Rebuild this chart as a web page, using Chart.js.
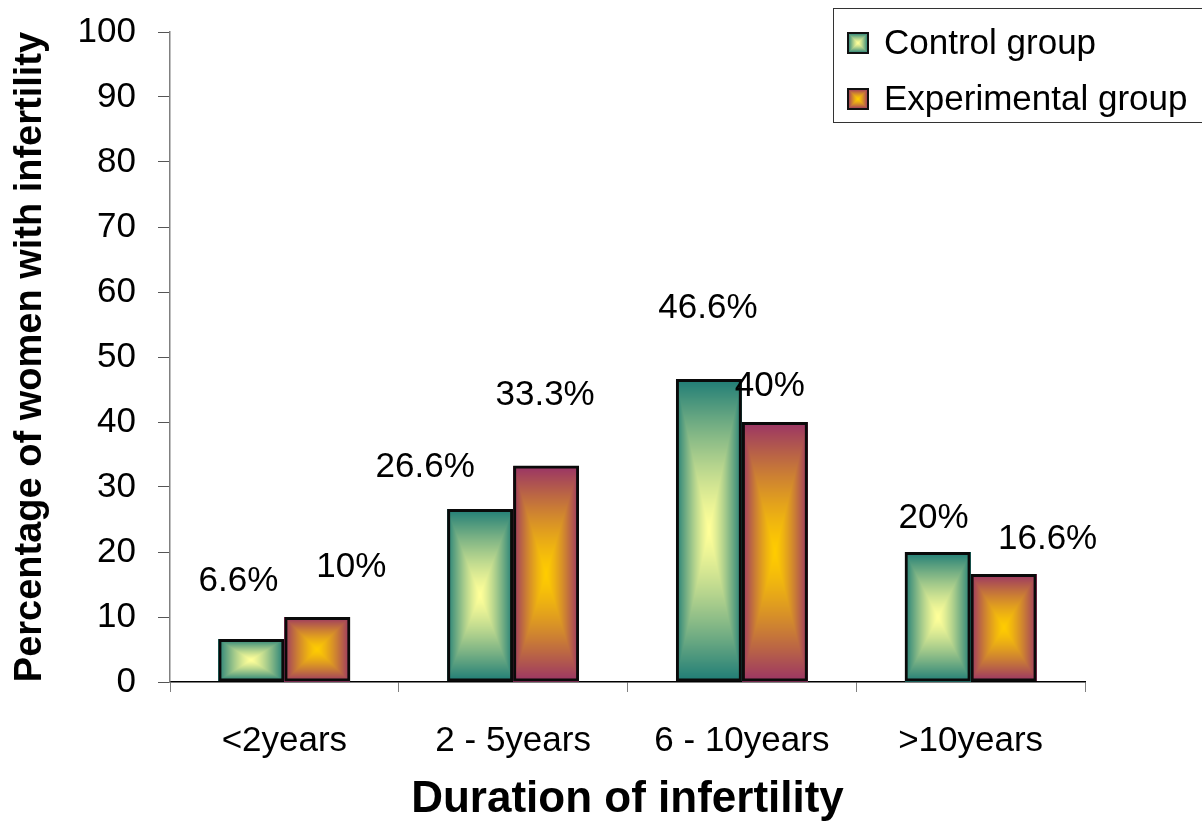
<!DOCTYPE html>
<html>
<head>
<meta charset="utf-8">
<script src="https://cdn.jsdelivr.net/npm/chart.js@4.4.1/dist/chart.umd.min.js"></script>
<style>
  html, body { margin: 0; padding: 0; background: #fff; }
  #wrap { width: 1202px; height: 830px; }
</style>
</head>
<body>
<div id="wrap"><canvas id="chart" width="1202" height="830"></canvas></div>
<script>
'use strict';

// ── data ──
const categories = ['<2years', '2 - 5years', '6 - 10years', '>10years'];
const controlValues = [6.6, 26.6, 46.6, 20];
const experimentalValues = [10, 33.3, 40, 16.6];
const yTicks = [0, 10, 20, 30, 40, 50, 60, 70, 80, 90, 100];

// label placement (pixel nudges from the bar top, as in the original slide)
const controlLabelDx = [-13, -55, -1, -4];
const controlLabelDy = [-58, -42, -71, -34];
const experimentalLabelDx = [34, -1, -5, 44];
const experimentalLabelDy = [-50, -70, -36, -35];

const FONT = '"Liberation Sans", Arial, sans-serif';

// edge / centre colours of the "from centre" box gradient
const FILLS = [
  { edge: [30, 124, 118], centre: [255, 255, 153] },
  { edge: [153, 51, 102], centre: [255, 204, 0] },
];

// paints a rectangular (box) gradient: bright centre, dark edges
function boxGradient(w, h, fill) {
  w = Math.max(1, Math.round(w));
  h = Math.max(1, Math.round(h));
  const off = document.createElement('canvas');
  off.width = w;
  off.height = h;
  const octx = off.getContext('2d');
  const img = octx.createImageData(w, h);
  for (let j = 0; j < h; j++) {
    const dy = Math.abs((j + 0.5) / h * 2 - 1);
    for (let i = 0; i < w; i++) {
      const dx = Math.abs((i + 0.5) / w * 2 - 1);
      const t = Math.pow(Math.max(dx, dy), 1.3);
      const k = (j * w + i) * 4;
      img.data[k] = fill.centre[0] + (fill.edge[0] - fill.centre[0]) * t;
      img.data[k + 1] = fill.centre[1] + (fill.edge[1] - fill.centre[1]) * t;
      img.data[k + 2] = fill.centre[2] + (fill.edge[2] - fill.centre[2]) * t;
      img.data[k + 3] = 255;
    }
  }
  octx.putImageData(img, 0, 0);
  return off;
}

// ── fill each bar before Chart.js strokes its border ──
const boxFillPlugin = {
  id: 'boxFill',
  beforeDatasetsDraw(chart) {
    const ctx = chart.ctx;
    chart.data.datasets.forEach((ds, di) => {
      const meta = chart.getDatasetMeta(di);
      meta.data.forEach((bar) => {
        const p = bar.getProps(['x', 'y', 'base', 'width'], true);
        const left = p.x - p.width / 2;
        const top = Math.min(p.y, p.base);
        const h = Math.abs(p.base - p.y);
        ctx.drawImage(boxGradient(p.width, h, FILLS[di]), Math.round(left), Math.round(top));
      });
    });
  },
};

// ── value labels above the bars ──
const valueLabelPlugin = {
  id: 'valueLabels',
  afterDatasetsDraw(chart) {
    const ctx = chart.ctx;
    const nudges = [
      [controlLabelDx, controlLabelDy],
      [experimentalLabelDx, experimentalLabelDy],
    ];
    ctx.save();
    ctx.font = '35px ' + FONT;
    ctx.fillStyle = '#000';
    ctx.textAlign = 'center';
    ctx.textBaseline = 'middle';
    chart.data.datasets.forEach((ds, di) => {
      const meta = chart.getDatasetMeta(di);
      meta.data.forEach((bar, i) => {
        const p = bar.getProps(['x', 'y'], true);
        ctx.fillText(ds.data[i] + '%', p.x + nudges[di][0][i], p.y + nudges[di][1][i]);
      });
    });
    ctx.restore();
  },
};

// ── boxed legend in the top-right corner (runs off the edge like the original) ──
const boxLegendPlugin = {
  id: 'boxLegend',
  afterDraw(chart) {
    const ctx = chart.ctx;
    ctx.save();
    ctx.strokeStyle = '#333';
    ctx.lineWidth = 1;
    ctx.strokeRect(833.5, 8.5, 420, 114);
    ctx.font = '35px ' + FONT;
    ctx.fillStyle = '#000';
    ctx.textBaseline = 'middle';
    chart.data.datasets.forEach((ds, di) => {
      const cy = 43 + di * 56;
      ctx.drawImage(boxGradient(20, 20, FILLS[di]), 848, cy - 10);
      ctx.lineWidth = 2;
      ctx.strokeStyle = '#111';
      ctx.strokeRect(848, cy - 10, 20, 20);
      ctx.fillText(ds.label, 884, cy + 1);
    });
    ctx.restore();
  },
};

new Chart(document.getElementById('chart'), {
  type: 'bar',
  data: {
    labels: categories,
    datasets: [
      {
        label: 'Control group',
        data: controlValues,
        backgroundColor: 'rgba(0,0,0,0)',
        borderColor: '#0a0a0a',
        borderWidth: 3,
        borderSkipped: false,
      },
      {
        label: 'Experimental group',
        data: experimentalValues,
        backgroundColor: 'rgba(0,0,0,0)',
        borderColor: '#0a0a0a',
        borderWidth: 3,
        borderSkipped: false,
      },
    ],
  },
  options: {
    responsive: false,
    animation: false,
    events: [],
    layout: { padding: { top: 32, right: 117, left: 0, bottom: 0 } },
    datasets: { bar: { categoryPercentage: 0.577, barPercentage: 1 } },
    plugins: {
      legend: { display: false },
      tooltip: { enabled: false },
    },
    scales: {
      x: {
        afterFit(s) { s.height = 148; s.paddingLeft = 0; s.paddingRight = 0; },
        grid: { drawOnChartArea: false, drawTicks: true, tickLength: 10, color: '#808080', offset: true },
        border: { display: true, color: '#000', width: 1.5 },
        ticks: { color: '#000', font: { family: FONT, size: 35 }, padding: 28, maxRotation: 0 },
        title: {
          display: true,
          text: 'Duration of infertility',
          color: '#000',
          font: { family: FONT, size: 44, weight: 'bold' },
          padding: { top: 0, bottom: 4 },
        },
      },
      y: {
        min: 0,
        max: 100,
        afterFit(s) { s.width = 170; s.paddingTop = 0; s.paddingBottom = 0; },
        afterBuildTicks(s) { s.ticks = yTicks.map((v) => ({ value: v })); },
        grid: { drawOnChartArea: false, drawTicks: true, tickLength: 12, color: '#555' },
        border: { display: true, color: '#808080', width: 1.5 },
        ticks: { color: '#000', font: { family: FONT, size: 35 }, padding: 22 },
        title: {
          display: true,
          text: 'Percentage of women with infertility',
          color: '#000',
          font: { family: FONT, size: 38, weight: 'bold' },
          padding: { top: 8, bottom: 0 },
        },
      },
    },
  },
  plugins: [boxFillPlugin, valueLabelPlugin, boxLegendPlugin],
});
</script>
</body>
</html>
